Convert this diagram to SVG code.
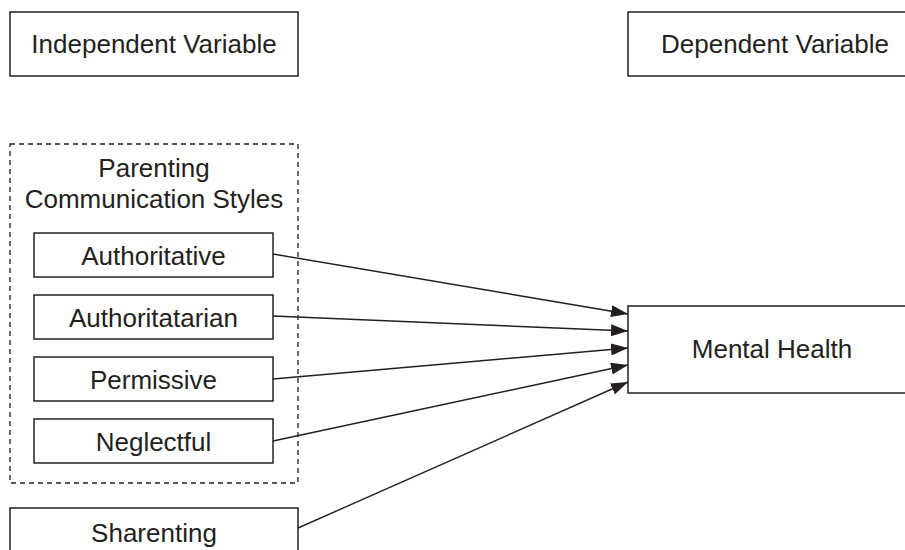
<svg xmlns="http://www.w3.org/2000/svg" width="905" height="550" viewBox="0 0 905 550">
<style>
.box{fill:#fff;stroke:#231f20;stroke-width:1.5}
.dash{fill:none;stroke:#231f20;stroke-width:1.3;stroke-dasharray:5 4}
.t{font-family:"Liberation Sans",Arial,sans-serif;font-size:26px;fill:#231f20;text-anchor:middle}
.c{stroke:#231f20;stroke-width:1.4;fill:none;marker-end:url(#ah)}
</style>
<defs>
<marker id="ah" viewBox="0 0 17 12" refX="17" refY="6" markerWidth="17" markerHeight="12" markerUnits="userSpaceOnUse" orient="auto">
<path d="M0,0 L17,6 L0,12 Z" fill="#231f20"/>
</marker>
</defs>
<rect width="905" height="550" fill="#fff"/>
<g id="independent-variable"><rect class="box" x="10" y="12" width="288" height="64"/><text class="t" x="154" y="53">Independent Variable</text></g>
<g id="dependent-variable"><rect class="box" x="628" y="12" width="290" height="64"/><text class="t" x="775" y="53">Dependent Variable</text></g>
<g id="parenting-styles"><rect class="dash" x="10" y="144" width="288" height="339"/><text class="t" x="154" y="177">Parenting</text><text class="t" x="154" y="208">Communication Styles</text></g>
<g id="authoritative"><rect class="box" x="34" y="233" width="239" height="44"/><text class="t" x="153.5" y="265">Authoritative</text></g>
<g id="authoritatarian"><rect class="box" x="34" y="295" width="239" height="44"/><text class="t" x="153.5" y="327">Authoritatarian</text></g>
<g id="permissive"><rect class="box" x="34" y="357" width="239" height="44"/><text class="t" x="153.5" y="389">Permissive</text></g>
<g id="neglectful"><rect class="box" x="34" y="419" width="239" height="44"/><text class="t" x="153.5" y="451">Neglectful</text></g>
<g id="sharenting"><rect class="box" x="10" y="508" width="288" height="64"/><text class="t" x="154" y="542">Sharenting</text></g>
<g id="mental-health"><rect class="box" x="628" y="306" width="290" height="87"/><text class="t" x="772" y="358">Mental Health</text></g>
<g id="connectors">
<line class="c" x1="273" y1="254" x2="628" y2="314"/>
<line class="c" x1="273" y1="316" x2="628" y2="331"/>
<line class="c" x1="273" y1="379" x2="628" y2="348"/>
<line class="c" x1="273" y1="441" x2="628" y2="365"/>
<line class="c" x1="298" y1="528" x2="628" y2="382"/>
</g>
</svg>
